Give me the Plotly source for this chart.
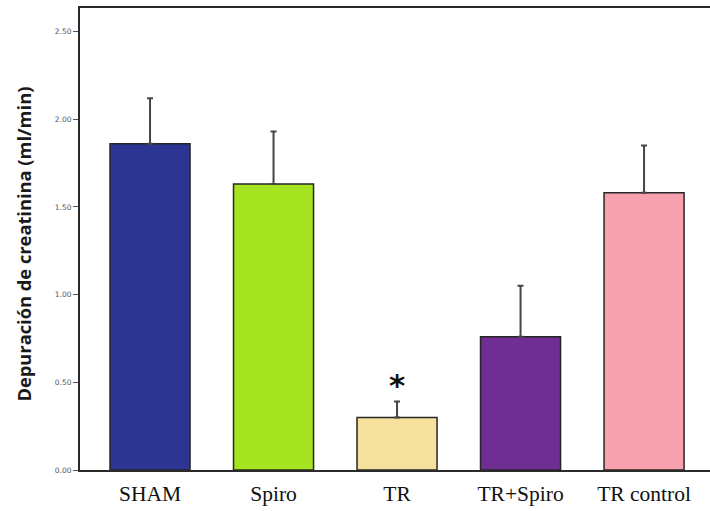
import plotly.graph_objects as go

# Creatinine clearance per group (mean and upper error)
groups = ["SHAM", "Spiro", "TR", "TR+Spiro", "TR control"]
clearance = [1.86, 1.63, 0.30, 0.76, 1.58]
error_up = [0.26, 0.30, 0.09, 0.29, 0.27]
bar_colors = ["#2d3592", "#a6e320", "#f5e19c", "#6e2e94", "#f8a1ae"]
y_ticks = [0.0, 0.5, 1.0, 1.5, 2.0, 2.5]
y_title = "Depuración de creatinina (ml/min)"
marked_group = "TR"
marked_level = 0.50

fig = go.Figure()
fig.add_trace(go.Bar(
    x=list(range(len(groups))),
    y=clearance,
    marker=dict(color=bar_colors, line=dict(color="#262626", width=1.5)),
    error_y=dict(type="data", array=error_up, arrayminus=[0] * len(groups),
                 symmetric=False, color="#454545", thickness=2, width=3),
    showlegend=False,
))

# significance marker
fig.add_annotation(
    x=groups.index(marked_group), y=marked_level, text="<b>*</b>",
    showarrow=False, font=dict(family="DejaVu Sans", size=31, color="#111"),
    yanchor="middle", yshift=-3,
)

# vertical axis title
fig.add_annotation(
    xref="paper", yref="paper", x=-0.089, y=0.49,
    text=f"<b>{y_title}</b>", textangle=-90, showarrow=False,
    xanchor="center", yanchor="middle",
    font=dict(family="Open Sans", size=18.3, color="#1a1a1a"),
)

fig.update_layout(
    width=710, height=511,
    margin=dict(l=80, r=0, t=8, b=41),
    paper_bgcolor="white", plot_bgcolor="white",
    bargap=0.352,
    xaxis=dict(
        range=[-0.567, 4.534],
        tickmode="array", tickvals=list(range(len(groups))), ticktext=groups,
        showline=True, linecolor="#2a2a2a", linewidth=2, mirror=True,
        showgrid=False, zeroline=False, ticks="",
        tickfont=dict(family="'Liberation Serif', 'Times New Roman', serif",
                      size=21.5, color="#111"),
        ticklabelstandoff=3,
    ),
    yaxis=dict(
        range=[0, 2.634],
        tickmode="array", tickvals=y_ticks,
        ticktext=[f"{v:.2f}" for v in y_ticks],
        showline=True, linecolor="#2a2a2a", linewidth=2,
        showgrid=False, zeroline=False,
        ticks="outside", ticklen=5, tickwidth=1, tickcolor="#555",
        tickfont=dict(family="DejaVu Sans", size=7.5, color="#555"),
    ),
)

fig.write_html("out.html")
